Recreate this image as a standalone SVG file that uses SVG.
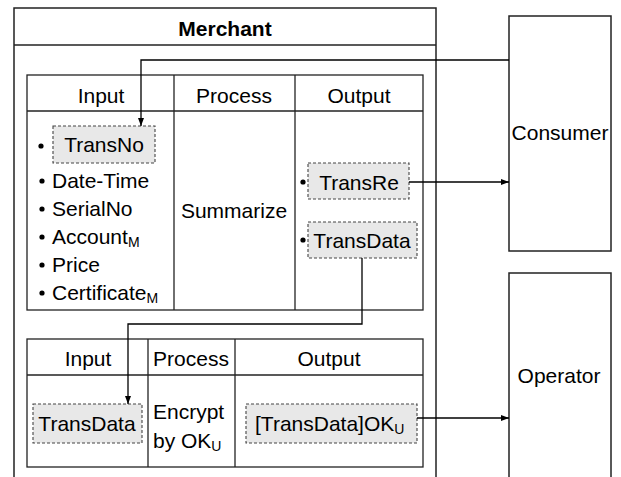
<svg xmlns="http://www.w3.org/2000/svg" width="621" height="477" viewBox="0 0 621 477">
<defs>
<style>
text{font-family:"Liberation Sans",Arial,sans-serif;font-size:21px;fill:#000}
.b{font-weight:bold}
.m{text-anchor:middle}
.sub{font-size:14px}
.box{fill:#fff;stroke:#222;stroke-width:1.5}
.tb{fill:none;stroke:#222;stroke-width:1.3}
.d{fill:#e8e8e8;stroke:#444;stroke-width:1.1;stroke-dasharray:3 2}
.c{fill:none;stroke:#000;stroke-width:1.3}
</style>
<marker id="ar" viewBox="0 0 8 8" refX="8" refY="4" markerWidth="8" markerHeight="8" markerUnits="userSpaceOnUse" orient="auto">
<path d="M0,1 L8,4 L0,7 Z" fill="#000"/>
</marker>
</defs>
<rect width="621" height="477" fill="#fff"/>
<g id="merchant">
<rect class="box" x="14" y="8" width="422" height="480"/>
<line class="tb" x1="14" y1="45" x2="436" y2="45"/>
<text class="b m" x="225" y="36">Merchant</text>
</g>
<g id="consumer">
<rect class="box" x="509" y="16" width="102" height="235"/>
<text class="m" x="560" y="140">Consumer</text>
</g>
<g id="operator">
<rect class="box" x="509" y="273" width="102" height="220"/>
<text class="m" x="559" y="383">Operator</text>
</g>
<g id="table1">
<rect class="tb" x="27" y="75" width="396" height="235"/>
<line class="tb" x1="27" y1="111" x2="423" y2="111"/>
<line class="tb" x1="174" y1="75" x2="174" y2="310"/>
<line class="tb" x1="295" y1="75" x2="295" y2="310"/>
<text class="m" x="101" y="103">Input</text>
<text class="m" x="234" y="103">Process</text>
<text class="m" x="359" y="103">Output</text>
<circle cx="41" cy="146" r="2.6"/>
<rect class="d" x="53" y="126" width="102" height="37"/>
<text class="m" x="104" y="152">TransNo</text>
<circle cx="42" cy="181" r="2.6"/>
<text x="52" y="188">Date-Time</text>
<circle cx="42" cy="209" r="2.6"/>
<text x="52" y="216">SerialNo</text>
<circle cx="42" cy="237" r="2.6"/>
<text x="52" y="244">Account<tspan class="sub" dy="3">M</tspan></text>
<circle cx="42" cy="265" r="2.6"/>
<text x="52" y="272">Price</text>
<circle cx="42" cy="293" r="2.6"/>
<text x="52" y="300">Certificate<tspan class="sub" dy="3">M</tspan></text>
<text class="m" x="234" y="218">Summarize</text>
<circle cx="303" cy="182" r="2.6"/>
<rect class="d" x="308" y="163" width="101" height="36"/>
<text class="m" x="359" y="190">TransRe</text>
<circle cx="303" cy="240" r="2.6"/>
<rect class="d" x="308" y="222" width="109" height="36"/>
<text class="m" x="362" y="248">TransData</text>
</g>
<g id="table2">
<rect class="tb" x="27" y="339" width="396" height="128"/>
<line class="tb" x1="27" y1="375" x2="423" y2="375"/>
<line class="tb" x1="148" y1="339" x2="148" y2="467"/>
<line class="tb" x1="235" y1="339" x2="235" y2="467"/>
<text class="m" x="88" y="366">Input</text>
<text class="m" x="191" y="366">Process</text>
<text class="m" x="329" y="366">Output</text>
<rect class="d" x="33" y="404" width="109" height="39"/>
<text class="m" x="87" y="431">TransData</text>
<text x="153" y="419">Encrypt</text>
<text x="153" y="448">by OK<tspan class="sub" dy="3">U</tspan></text>
<rect class="d" x="246" y="404" width="171" height="39"/>
<text x="255" y="431">[TransData]OK<tspan class="sub" dy="3">U</tspan></text>
</g>
<g id="connectors">
<path class="c" d="M509,60 H141 V126" marker-end="url(#ar)"/>
<path class="c" d="M409,182 H509" marker-end="url(#ar)"/>
<path class="c" d="M362,258 V324 H128 V404" marker-end="url(#ar)"/>
<path class="c" d="M417,418 H509" marker-end="url(#ar)"/>
</g>
</svg>
